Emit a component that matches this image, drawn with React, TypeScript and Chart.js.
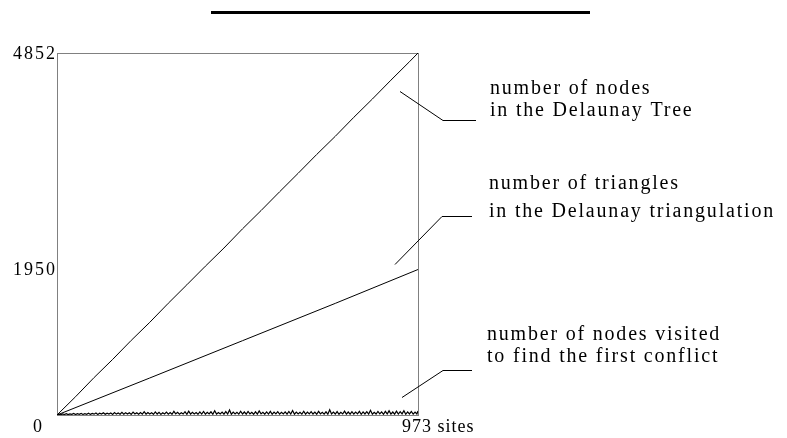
import React, { useEffect, useRef } from "react";
import { Chart, registerables } from "chart.js";

Chart.register(...registerables);

// ---- data ----
const siteMax = 973;
const valueMax = 4852;

const yTickValues = [0, 1950, 4852];
const xTickLabels = ["0", "973 sites"];

// number of nodes in the Delaunay Tree
const treeSites = [0, 50, 100, 150, 200, 250, 300, 350, 400, 450, 500, 550, 600, 650, 700, 750, 800, 850, 900, 950, 973];
const treeNodes = [0, 245, 502, 745, 1000, 1242, 1498, 1745, 1995, 2238, 2495, 2740, 2992, 3240, 3492, 3735, 3990, 4235, 4488, 4735, 4852];

// number of triangles in the Delaunay triangulation
const triSites = [0, 250, 500, 750, 973];
const triCount = [0, 496, 996, 1496, 1950];

// number of nodes visited to find the first conflict (sampled every 5 sites, last at 973)
const visitedStep = 5;
const visited = [
  0, 12, 4, 15, 6, 18, 5, 14, 8, 20, 6, 17, 9, 22, 7, 19, 10, 24, 8, 21,
  11, 26, 7, 23, 12, 30, 9, 25, 13, 28, 8, 32, 12, 27, 10, 35, 11, 29, 14, 31,
  9, 38, 13, 30, 10, 33, 12, 45, 11, 34, 14, 29, 10, 42, 13, 36, 9, 31, 15, 40,
  12, 33, 10, 48, 14, 35, 11, 30, 13, 44, 9, 52, 12, 37, 15, 32, 10, 41, 13, 47,
  11, 36, 14, 43, 10, 58, 12, 34, 15, 39, 11, 46, 13, 68, 10, 38, 14, 35, 12, 50,
  13, 40, 11, 47, 14, 37, 10, 43, 12, 55, 15, 36, 11, 42, 13, 49, 10, 38, 14, 44,
  12, 35, 15, 41, 11, 47, 13, 60, 10, 39, 14, 36, 12, 50, 11, 40, 15, 45, 13, 38,
  10, 48, 14, 37, 12, 43, 11, 70, 15, 39, 13, 46, 10, 36, 14, 52, 12, 40, 11, 44,
  13, 38, 15, 49, 10, 41, 14, 45, 12, 63, 11, 37, 13, 47, 15, 42, 10, 48, 14, 56,
  12, 40, 11, 51, 13, 44, 15, 58, 10, 42, 14, 47, 12, 39, 13, 54,
];

const annotations = [
  { lines: ["number of nodes", "in the Delaunay Tree"], x: 490, y: [94, 116], leader: [[400, 91], [443, 120], [476, 120]] },
  { lines: ["number of triangles", "in the Delaunay triangulation"], x: 489, y: [189, 217], leader: [[395, 264], [442, 216], [472, 216]] },
  { lines: ["number of nodes visited", "to find the first conflict"], x: 487, y: [340, 362], leader: [[402, 397], [443, 370], [472, 370]] },
];

const SERIF = "'Liberation Serif', 'DejaVu Serif', serif";

const decorPlugin = {
  id: "decor",
  beforeDatasetsDraw(chart: any) {
    const ctx = chart.ctx;
    const { left, right, top, bottom } = chart.chartArea;
    ctx.save();
    ctx.strokeStyle = "#808080";
    ctx.lineWidth = 1;
    ctx.strokeRect(Math.round(left) + 0.5, Math.round(top) + 0.5, Math.round(right) - Math.round(left), Math.round(bottom) - Math.round(top));
    ctx.restore();
  },
  afterDraw(chart: any) {
    const ctx = chart.ctx;
    const xs = chart.scales.x;
    const ys = chart.scales.y;
    ctx.save();
    // title bar
    ctx.fillStyle = "#000";
    ctx.fillRect(211, 11, 379, 3);

    // y tick labels
    ctx.font = `18px ${SERIF}`;
    (ctx as any).letterSpacing = "2px";
    ctx.textAlign = "right";
    ctx.textBaseline = "middle";
    yTickValues.forEach((v) => {
      if (v === 0) return;
      ctx.fillText(String(v), xs.left, ys.getPixelForValue(v) + 1);
    });
    // x tick labels
    ctx.font = `18px ${SERIF}`;
    (ctx as any).letterSpacing = "1px";
    ctx.textBaseline = "alphabetic";
    ctx.textAlign = "center";
    ctx.fillText(xTickLabels[0], xs.getPixelForValue(0) - 19, 432);
    ctx.textAlign = "left";
    ctx.fillText(xTickLabels[1], xs.getPixelForValue(siteMax) - 16, 432);

    // annotations
    ctx.font = `20px ${SERIF}`;
    (ctx as any).letterSpacing = "1.8px";
    ctx.textAlign = "left";
    ctx.strokeStyle = "#000";
    ctx.lineWidth = 1;
    annotations.forEach((a) => {
      a.lines.forEach((t, i) => ctx.fillText(t, a.x, a.y[i]));
      ctx.beginPath();
      a.leader.forEach(([px, py], i) => (i === 0 ? ctx.moveTo(px, py + 0.5) : ctx.lineTo(px, py + 0.5)));
      ctx.stroke();
    });
    ctx.restore();
  },
};

export default function App() {
  const ref = useRef<HTMLCanvasElement>(null);
  useEffect(() => {
    if (!ref.current) return;
    const line = (pts: { x: number; y: number }[], w = 1) => ({
      data: pts,
      borderColor: "#000",
      borderWidth: w,
      pointRadius: 0,
      tension: 0,
      fill: false,
    });
    const chart = new Chart(ref.current, {
      type: "line",
      data: {
        datasets: [
          line(treeSites.map((s, i) => ({ x: s, y: treeNodes[i] }))),
          line(triSites.map((s, i) => ({ x: s, y: triCount[i] }))),
          line(visited.map((v, i) => ({ x: Math.min(i * visitedStep, siteMax), y: v })), 1.2),
        ],
      },
      options: {
        animation: false,
        responsive: false,
        devicePixelRatio: 1,
        parsing: false as any,
        layout: { padding: { left: 57, top: 53, right: 369, bottom: 23 } },
        plugins: { legend: { display: false }, tooltip: { enabled: false }, title: { display: false } },
        scales: {
          x: { type: "linear", min: 0, max: siteMax, display: false },
          y: { type: "linear", min: 0, max: valueMax, display: false },
        },
      },
      plugins: [decorPlugin],
    });
    return () => chart.destroy();
  }, []);
  return (
    <div style={{ position: "fixed", left: 0, top: 0, width: 787, height: 438, background: "#fff" }}>
      <canvas ref={ref} width={787} height={438} style={{ width: 787, height: 438 }} />
    </div>
  );
}
